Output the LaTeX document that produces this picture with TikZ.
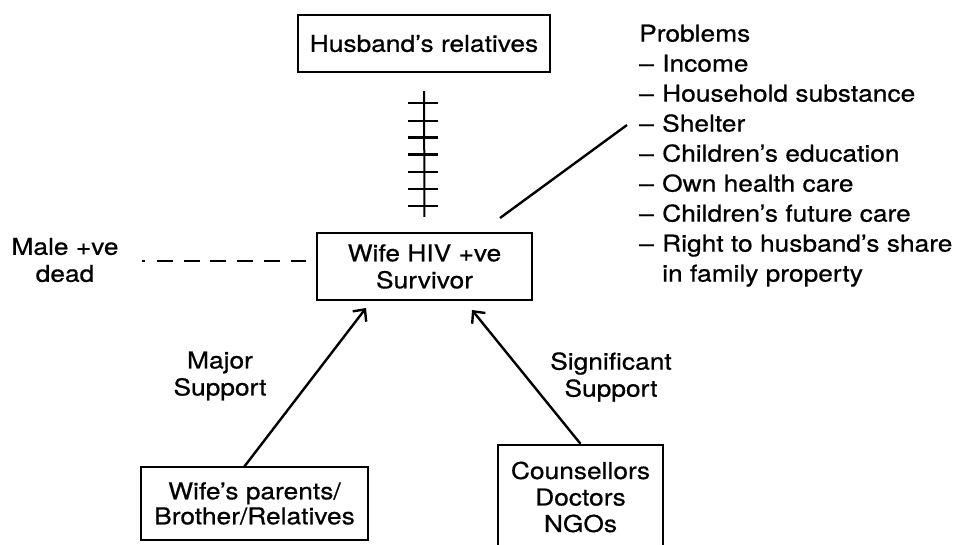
\documentclass[tikz,border=0pt]{standalone}
\usepackage{fontspec}
\setmainfont{TeX Gyre Heros}[FakeStretch=1.135,FakeBold=0.6]
\usetikzlibrary{arrows.meta}
\newcommand\dgfont{\fontsize{23.2pt}{27pt}\selectfont}
\begin{document}
\begin{tikzpicture}[x=1pt,y=-1pt,
  ln/.style={line width=2.4pt},
  box/.style={draw, line width=2.4pt, align=center, inner sep=0pt, font=\dgfont},
  lbl/.style={align=center, inner sep=0pt, font=\dgfont},
  arr/.style={ln, -{Straight Barb[length=9pt,width=17pt,line width=2.4pt]}},
  dashline/.style={line width=2.4pt, dash pattern=on 2.5pt off 12.5pt on 16pt off 10.7pt on 16pt off 10.7pt on 16pt off 10.7pt on 16pt off 10.7pt on 16pt off 10.7pt on 16pt off 10.7pt}
]
\fill[white] (0,0) rectangle (957,544);
\useasboundingbox (0,0) rectangle (957,544);

\node[box, minimum width=252pt, minimum height=57pt] (husband) at (424,43.5) {Husband's relatives};
\node[box, minimum width=215pt, minimum height=67pt] (wife) at (424.5,266.5) {Wife HIV +ve\\Survivor};
\node[lbl] (male) at (65,260) {Male +ve\\dead};
\node[box, minimum width=227pt, minimum height=73pt, font={\fontsize{23.2pt}{25pt}\selectfont}] (parents) at (254.5,503.5) {Wife's parents/\\Brother/Relatives};
\node[box, minimum width=165pt, minimum height=104pt, font={\fontsize{23.2pt}{26.5pt}\selectfont}] (couns) at (580.5,497) {Counsellors\\Doctors\\NGOs};
\node[lbl] (major) at (220,376) {Major\\Support};
\node[lbl] (signif) at (611,377) {Significant\\Support};
\node[lbl, align=left, anchor=north west, font={\fontsize{23.2pt}{30pt}\selectfont}] (problems) at (639,24.5)
 {Problems\\
  \makebox[23pt][l]{–}Income\\
  \makebox[23pt][l]{–}Household substance\\
  \makebox[23pt][l]{–}Shelter\\
  \makebox[23pt][l]{–}Children's education\\
  \makebox[23pt][l]{–}Own health care\\
  \makebox[23pt][l]{–}Children's future care\\
  \makebox[23pt][l]{–}Right to husband's share\\
  \hspace*{23pt}in family property};

% ladder between husband's relatives and wife
\draw[ln, line width=2pt, shorten <=18pt, shorten >=15pt] (husband.south) -- (wife.north);
\foreach \ty in {103,121,137.5,154.5,172,189,206}
  \draw[ln, line width=2.8pt] (408,\ty) -- (438,\ty);

% dashed link to dead husband
\coordinate (ds) at (142,261);
\draw[dashline, shorten >=10pt] (ds) -- (wife.west |- ds);

% line to problems
\coordinate (pa) at (500,218);
\coordinate (pb) at (627,125);
\draw[ln] (pa) -- (pb);

% support arrows
\coordinate (a1s) at (244,467);
\coordinate (a1t) at (366,308);
\draw[arr] (a1s) -- (a1t);
\coordinate (a2t) at (472,310);
\draw[arr] (couns.north) -- (a2t);
\end{tikzpicture}
\end{document}
